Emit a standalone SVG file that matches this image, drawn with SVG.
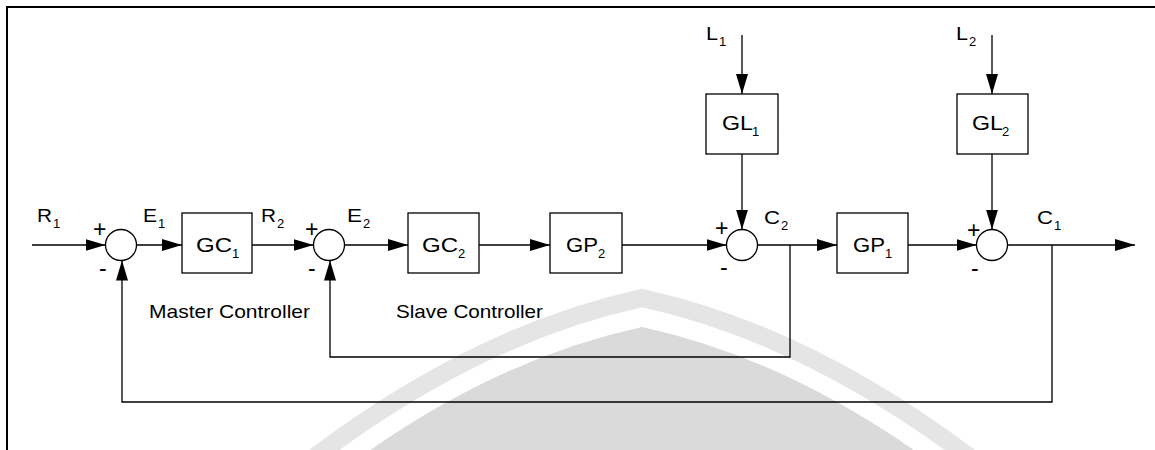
<svg xmlns="http://www.w3.org/2000/svg" width="1155" height="450" viewBox="0 0 1155 450">
<style>
.ln{fill:none;stroke:#000;stroke-width:1.3}
.bx{fill:#fff;stroke:#000;stroke-width:1.3}
.sm{fill:#fff;stroke:#000;stroke-width:1.3}
text{font-family:"Liberation Sans",Arial,sans-serif;fill:#000}
.lb{font-size:18px}
.bl{font-size:20px}
.sb{font-size:13px}
.sg{font-size:23px}
.cap{font-size:18.5px}
</style>
<defs>
<marker id="ah" markerUnits="userSpaceOnUse" markerWidth="20" markerHeight="12" refX="20" refY="6" orient="auto">
<path d="M0,0 L20,6 L0,12 Z" fill="#000"/>
</marker>
</defs>
<rect width="1155" height="450" fill="#fff"/>
<g id="logo">
<path d="M312,459 Q477,334 642,298 Q807,334 972,459" fill="none" stroke="#e5e5e5" stroke-width="18"/>
<path d="M316,490 Q479,362 642,327 Q805,362 968,490 Z" fill="#dadada"/>
</g>
<g id="frame">
<line x1="6" y1="7" x2="1155" y2="7" stroke="#000" stroke-width="2"/>
<line x1="7" y1="6" x2="7" y2="450" stroke="#000" stroke-width="2"/>
</g>
<g id="connectors">
<line class="ln" x1="32" y1="245" x2="105.5" y2="245" marker-end="url(#ah)"/>
<line class="ln" x1="136.5" y1="245" x2="182" y2="245" marker-end="url(#ah)"/>
<line class="ln" x1="252" y1="245" x2="313.5" y2="245" marker-end="url(#ah)"/>
<line class="ln" x1="344.5" y1="245" x2="408" y2="245" marker-end="url(#ah)"/>
<line class="ln" x1="479" y1="245" x2="550" y2="245" marker-end="url(#ah)"/>
<line class="ln" x1="622" y1="245" x2="726.5" y2="245" marker-end="url(#ah)"/>
<line class="ln" x1="757.5" y1="245" x2="837" y2="245" marker-end="url(#ah)"/>
<line class="ln" x1="908" y1="245" x2="976.5" y2="245" marker-end="url(#ah)"/>
<line class="ln" x1="1007.5" y1="245" x2="1135" y2="245" marker-end="url(#ah)"/>
<line class="ln" x1="742" y1="35" x2="742" y2="94" marker-end="url(#ah)"/>
<line class="ln" x1="742" y1="154" x2="742" y2="229.5" marker-end="url(#ah)"/>
<line class="ln" x1="992" y1="35" x2="992" y2="94" marker-end="url(#ah)"/>
<line class="ln" x1="992" y1="154" x2="992" y2="229.5" marker-end="url(#ah)"/>
<polyline class="ln" points="790,245 790,357 330,357 330,260.5" marker-end="url(#ah)"/>
<polyline class="ln" points="1052,245 1052,402 122,402 122,260.5" marker-end="url(#ah)"/>
</g>
<g id="sum1"><circle class="sm" cx="121" cy="245" r="15.5"/>
<text class="sg" x="93" y="237">+</text><text class="sg" x="99" y="276">-</text></g>
<g id="sum2"><circle class="sm" cx="329" cy="245" r="15.5"/>
<text class="sg" x="305" y="237">+</text><text class="sg" x="308" y="276">-</text></g>
<g id="sum3"><circle class="sm" cx="742" cy="245" r="15.5"/>
<text class="sg" x="715" y="236">+</text><text class="sg" x="720" y="275">-</text></g>
<g id="sum4"><circle class="sm" cx="992" cy="245" r="15.5"/>
<text class="sg" x="967" y="238">+</text><text class="sg" x="971" y="276">-</text></g>
<g id="GC1"><rect class="bx" x="182" y="213" width="70" height="60"/>
<text class="bl" x="196" y="252" textLength="36" lengthAdjust="spacingAndGlyphs">GC</text><text class="sb" x="232" y="258">1</text></g>
<g id="GC2"><rect class="bx" x="408" y="213" width="71" height="60"/>
<text class="bl" x="422" y="252" textLength="36" lengthAdjust="spacingAndGlyphs">GC</text><text class="sb" x="458" y="258">2</text></g>
<g id="GP2"><rect class="bx" x="550" y="213" width="72" height="60"/>
<text class="bl" x="566" y="252" textLength="32" lengthAdjust="spacingAndGlyphs">GP</text><text class="sb" x="598" y="258">2</text></g>
<g id="GP1"><rect class="bx" x="837" y="213" width="71" height="60"/>
<text class="bl" x="853" y="252" textLength="32" lengthAdjust="spacingAndGlyphs">GP</text><text class="sb" x="885" y="258">1</text></g>
<g id="GL1"><rect class="bx" x="706" y="94" width="72" height="60"/>
<text class="bl" x="722" y="130" textLength="31" lengthAdjust="spacingAndGlyphs">GL</text><text class="sb" x="752" y="136">1</text></g>
<g id="GL2"><rect class="bx" x="957" y="94" width="71" height="60"/>
<text class="bl" x="972" y="130" textLength="31" lengthAdjust="spacingAndGlyphs">GL</text><text class="sb" x="1002" y="136">2</text></g>
<g id="labels">
<text class="lb" x="37" y="222" textLength="15" lengthAdjust="spacingAndGlyphs">R</text><text class="sb" x="53" y="228">1</text>
<text class="lb" x="143" y="222" textLength="14" lengthAdjust="spacingAndGlyphs">E</text><text class="sb" x="158" y="228">1</text>
<text class="lb" x="261" y="222" textLength="15" lengthAdjust="spacingAndGlyphs">R</text><text class="sb" x="277" y="228">2</text>
<text class="lb" x="347" y="222" textLength="15" lengthAdjust="spacingAndGlyphs">E</text><text class="sb" x="363" y="228">2</text>
<text class="lb" x="764" y="224" textLength="16" lengthAdjust="spacingAndGlyphs">C</text><text class="sb" x="781" y="230">2</text>
<text class="lb" x="1037" y="224" textLength="16" lengthAdjust="spacingAndGlyphs">C</text><text class="sb" x="1054" y="230">1</text>
<text class="lb" x="706" y="40" textLength="12" lengthAdjust="spacingAndGlyphs">L</text><text class="sb" x="719" y="46">1</text>
<text class="lb" x="956" y="40" textLength="12" lengthAdjust="spacingAndGlyphs">L</text><text class="sb" x="969" y="46">2</text>
<text class="cap" x="149" y="318" textLength="161" lengthAdjust="spacingAndGlyphs">Master Controller</text>
<text class="cap" x="396" y="318" textLength="147" lengthAdjust="spacingAndGlyphs">Slave Controller</text>
</g>
</svg>
